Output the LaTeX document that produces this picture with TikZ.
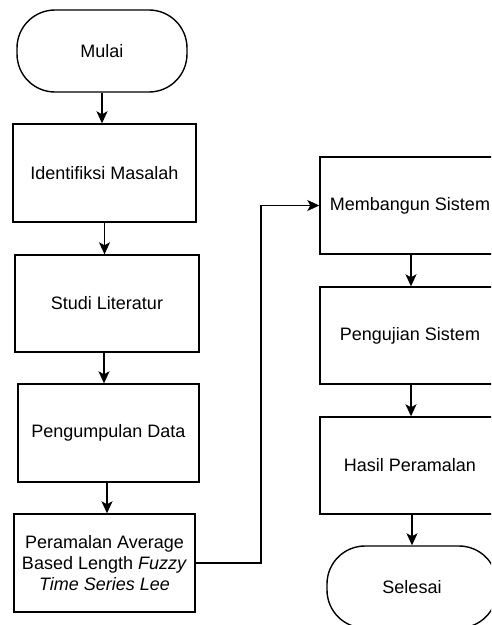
\documentclass[tikz,border=0pt]{standalone}
\usepackage{fontspec}
\setmainfont{Liberation Sans}
\usetikzlibrary{arrows.meta,calc}
\tikzset{
  box/.style={draw=black, line width=1.4pt, rectangle, minimum width=181pt, minimum height=98pt, inner sep=2pt, align=center, font=\fontsize{18}{21}\selectfont},
  term/.style={draw=black, line width=1.4pt, rectangle, rounded corners=38pt, minimum width=170pt, minimum height=82pt, inner sep=2pt, align=center, font=\fontsize{18}{21}\selectfont},
  arr/.style={draw=black, line width=1.4pt, -{Stealth[length=12pt,width=11pt,inset=3pt]}}
}
\begin{document}
\begin{tikzpicture}[x=1pt,y=-1pt]
\useasboundingbox (0,0) rectangle (491,625);
\clip (0,0) rectangle (491,625);
\fill[white] (0,0) rectangle (491,625);
\node[term] (mulai) at (102,51) {Mulai};
\node[box, minimum width=183pt] (ident) at (104.5,173) {Identifiksi Masalah};
\node[box, minimum width=184pt, minimum height=97pt] (studi) at (107,303.5) {Studi Literatur};
\node[box] (kumpul) at (108.5,433) {Pengumpulan Data};
\node[box] (ramal) at (104.5,563) {Peramalan Average\\Based Length \textit{Fuzzy}\\\textit{Time Series Lee}};
\node[box, minimum width=180pt, minimum height=97pt] (bangun) at (410,205.5) {Membangun Sistem};
\node[box, minimum width=180pt, minimum height=97pt] (uji) at (410,335.5) {Pengujian Sistem};
\node[box, minimum width=180pt, minimum height=97pt] (hasil) at (410,465.5) {Hasil Peramalan};
\node[term] (selesai) at (412,587) {Selesai};
\coordinate (bend) at (261,563);
\draw[arr] (mulai.south) -- (mulai.south |- ident.north);
\draw[arr] (ident.south) -- (ident.south |- studi.north);
\draw[arr] ($(studi.south)+(-3,0)$) -- ($(studi.south |- kumpul.north)+(-3,0)$);
\draw[arr] ($(kumpul.south)+(-1.5,0)$) -- ($(kumpul.south |- ramal.north)+(-1.5,0)$);
\draw[arr] (ramal.east) -- (bend) |- (bangun.west);
\draw[arr] ($(bangun.south)+(1,0)$) -- ($(bangun.south |- uji.north)+(1,0)$);
\draw[arr] ($(uji.south)+(1,0)$) -- ($(uji.south |- hasil.north)+(1,0)$);
\draw[arr] ($(hasil.south)+(2,0)$) -- ($(hasil.south |- selesai.north)+(2,0)$);
\end{tikzpicture}
\end{document}
